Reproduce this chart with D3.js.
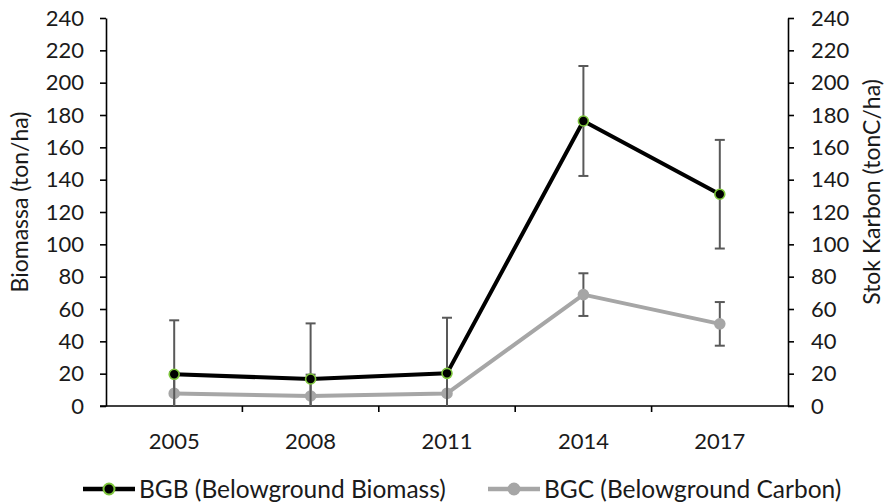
<!DOCTYPE html>
<html>
<head>
<meta charset="utf-8">
<script src="https://cdn.jsdelivr.net/npm/d3@7/dist/d3.min.js"></script>
<style>
  html, body { margin: 0; padding: 0; background: #fff; }
  svg { display: block; font-family: Lato, "Open Sans", sans-serif; }
</style>
</head>
<body>
<svg id="chart" width="888" height="503"></svg>
<script>
// Belowground biomass and carbon stock by survey year
const years = ["2005", "2008", "2011", "2014", "2017"];
const bgbValues = [19.6, 16.7, 20.2, 176.3, 131.0];
const bgbErrors = [33.4, 34.4, 34.4, 34.0, 33.6];
const bgcValues = [7.8, 6.2, 7.8, 68.9, 50.8];
const bgcErrors = [13.2, 13.2, 13.2, 13.2, 13.5];
const yTicks = [0, 20, 40, 60, 80, 100, 120, 140, 160, 180, 200, 220, 240];
const seriesNames = ["BGB (Belowground Biomass)", "BGC (Belowground Carbon)"];

const svg = d3.select("#chart");
const plot = { left: 106, right: 788, top: 18, bottom: 406 };

const x = d3.scaleBand().domain(years).range([plot.left, plot.right]);
const yLeft = d3.scaleLinear().domain([0, 240]).range([plot.bottom, plot.top]);
const yRight = d3.scaleLinear().domain([0, 240]).range([plot.bottom, plot.top]);
const cx = d => x(d) + x.bandwidth() / 2;

const axisColor = "#000";
const textColor = "#1a1a1a";
const tickFont = 22;
const titleFont = 23;
const legendFont = 24.5;

// Left axis
const gl = svg.append("g").attr("transform", `translate(${plot.left},0)`)
  .call(d3.axisLeft(yLeft).tickValues(yTicks).tickSize(6).tickSizeOuter(0).tickPadding(16));
// Right axis
const gr = svg.append("g").attr("transform", `translate(${plot.right},0)`)
  .call(d3.axisRight(yRight).tickValues(yTicks).tickSize(6).tickSizeOuter(0).tickPadding(17));
// Category axis with ticks on band boundaries
const gx = svg.append("g").attr("transform", `translate(0,${plot.bottom})`)
  .call(d3.axisBottom(x).tickSize(0).tickSizeOuter(0).tickPadding(27));
const boundaries = years.slice(1).map(d => x(d));
gx.selectAll(".band-tick").data(boundaries).enter().append("line")
  .attr("x1", d => d).attr("x2", d => d).attr("y1", 0).attr("y2", 6)
  .attr("stroke", axisColor).attr("stroke-width", 1.6);

[gl, gr, gx].forEach(g => {
  g.selectAll(".domain").attr("stroke", axisColor).attr("stroke-width", 1.6);
  g.selectAll(".tick line").attr("stroke", axisColor).attr("stroke-width", 1.6);
  g.selectAll("text").attr("font-size", tickFont).attr("fill", textColor)
    .attr("font-family", "Lato, 'Open Sans', sans-serif");
});
// extend baseline to meet the tick marks at both ends
gx.select(".domain").attr("d", `M${plot.left - 6},0H${plot.right + 6}`);

// Axis titles
svg.append("text")
  .attr("transform", "translate(28,202) rotate(-90)")
  .attr("text-anchor", "middle").attr("font-size", titleFont).attr("fill", textColor)
  .text("Biomassa (ton/ha)");
svg.append("text")
  .attr("transform", "translate(880,192) rotate(-90)")
  .attr("text-anchor", "middle").attr("font-size", titleFont).attr("fill", textColor)
  .text("Stok Karbon (tonC/ha)");

svg.append("clipPath").attr("id", "plotClip").append("rect")
  .attr("x", plot.left).attr("y", 0)
  .attr("width", plot.right - plot.left).attr("height", plot.bottom);

function drawErrorBars(values, errors, yScale) {
  const g = svg.append("g").attr("clip-path", "url(#plotClip)");
  const cap = 5;
  years.forEach((yr, i) => {
    const xp = cx(yr);
    const hi = yScale(values[i] + errors[i]);
    const lo = yScale(values[i] - errors[i]);
    g.append("line").attr("x1", xp).attr("x2", xp).attr("y1", hi).attr("y2", lo)
      .attr("stroke", "#595959").attr("stroke-width", 2);
    [hi, lo].forEach(yy => g.append("line")
      .attr("x1", xp - cap).attr("x2", xp + cap).attr("y1", yy).attr("y2", yy)
      .attr("stroke", "#595959").attr("stroke-width", 2));
  });
}

function drawSeries(values, yScale, color, markerFill, markerStroke) {
  const line = d3.line().x((d, i) => cx(years[i])).y(d => yScale(d));
  svg.append("path").datum(values).attr("d", line)
    .attr("fill", "none").attr("stroke", color).attr("stroke-width", 4)
    .attr("stroke-linejoin", "round");
  svg.append("g").selectAll("circle").data(values).enter().append("circle")
    .attr("cx", (d, i) => cx(years[i])).attr("cy", d => yScale(d)).attr("r", 5)
    .attr("fill", markerFill).attr("stroke", markerStroke).attr("stroke-width", 1.6);
}

// BGC on the secondary axis (drawn first, beneath BGB)
drawErrorBars(bgcValues, bgcErrors, yRight);
drawSeries(bgcValues, yRight, "#a6a6a6", "#a6a6a6", "#a6a6a6");
drawErrorBars(bgbValues, bgbErrors, yLeft);
drawSeries(bgbValues, yLeft, "#000", "#000", "#7ec63c");

// Legend
const legend = svg.append("g").attr("transform", "translate(0,489)");
const items = [
  { name: seriesNames[0], x: 83, color: "#000", fill: "#000", stroke: "#7ec63c" },
  { name: seriesNames[1], x: 488, color: "#a6a6a6", fill: "#a6a6a6", stroke: "#a6a6a6" }
];
items.forEach(it => {
  legend.append("line").attr("x1", it.x).attr("x2", it.x + 52).attr("y1", 0).attr("y2", 0)
    .attr("stroke", it.color).attr("stroke-width", 4.5);
  legend.append("circle").attr("cx", it.x + 26).attr("cy", 0).attr("r", 5.5)
    .attr("fill", it.fill).attr("stroke", it.stroke).attr("stroke-width", 2);
  legend.append("text").attr("x", it.x + 56).attr("y", 0).attr("dy", "0.36em")
    .attr("font-size", legendFont).attr("fill", textColor).text(it.name);
});
</script>
</body>
</html>
